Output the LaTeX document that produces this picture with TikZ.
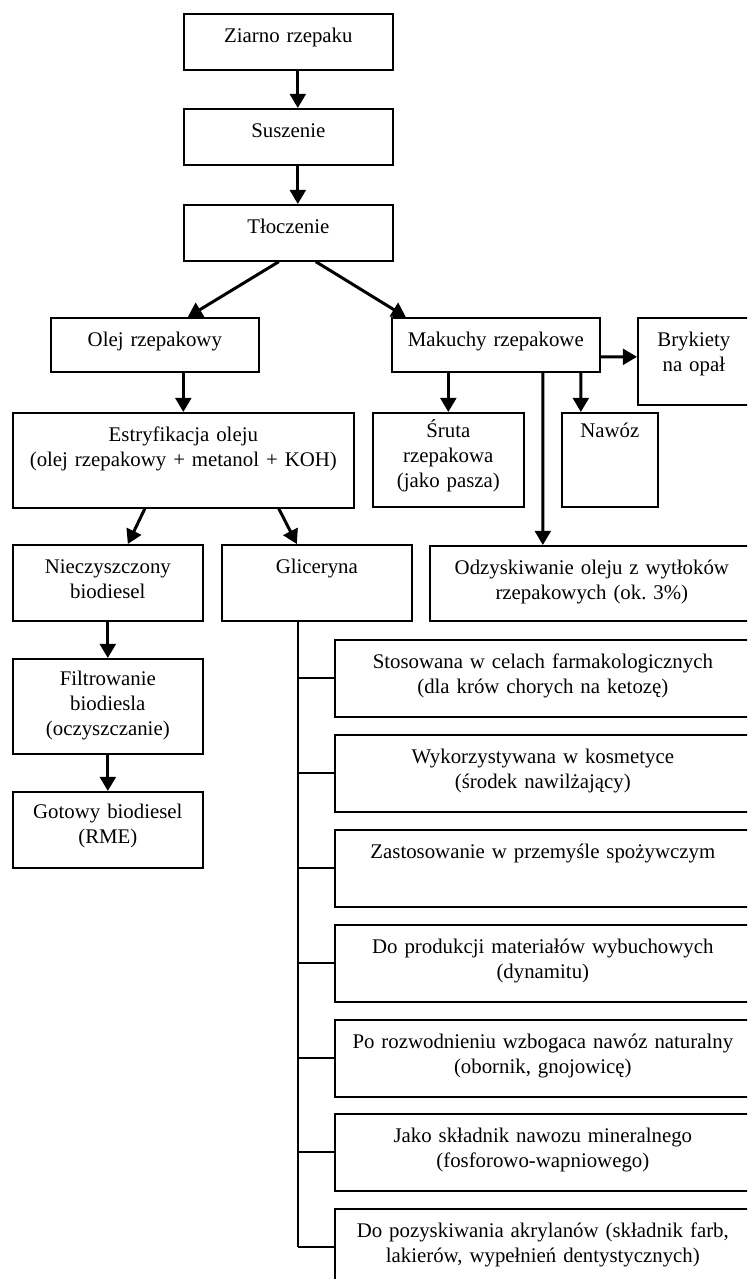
\documentclass[tikz,border=0pt]{standalone}
\usepackage{fontspec}
\setmainfont{Liberation Serif}
\usetikzlibrary{arrows.meta,calc}
\frenchspacing

\begin{document}
\begin{tikzpicture}[x=0.6pt,y=-0.6pt,
    box/.style={draw,line width=1pt,anchor=north west,inner sep=0pt,align=center,
      font=\fontsize{12.5}{15}\selectfont,text height=17.4pt},
    arr/.style={line width=1.8pt,-{Triangle[length=8.5pt,width=9.5pt]}},
    ln/.style={line width=1.1pt}]
    \useasboundingbox (0,0) rectangle (747,1279);
    \clip (0,0) rectangle (747,1279);
    \node[box,text width=125.4pt,text depth=16.2pt] (A0_0) at (183,13) {Ziarno rzepaku};
    \node[box,text width=125.4pt,text depth=16.2pt] (A1_0) at (183,108) {Suszenie};
    \node[box,text width=125.4pt,text depth=16.2pt] (A2_0) at (183,204) {Tłoczenie};
    \node[box,text width=124.8pt,text depth=15pt] (A3_0) at (50,317) {Olej rzepakowy};
    \node[box,text width=124.8pt,text depth=15pt] (A3_1) at (391,317) {Makuchy rzepakowe};
    \node[box,text width=67.2pt,text depth=34.8pt] (A3_2) at (637,317) {Brykiety\\na opał};
    \node[box,text width=204.6pt,text depth=39.6pt] (A4_0) at (12,412) {Estryfikacja oleju\\(olej rzepakowy + metanol + KOH)};
    \node[box,text width=90.6pt,text height=15pt,text depth=41.4pt] (A4_1) at (372,412) {Śruta\\rzepakowa\\(jako pasza)};
    \node[box,text width=57.6pt,text height=15pt,text depth=41.4pt] (A4_2) at (561,412) {Nawóz};
    \node[box,text width=114pt,text depth=28.2pt] (A5_0) at (12,544) {Nieczyszczony\\biodiesel};
    \node[box,text width=114pt,text depth=28.2pt] (A5_1) at (221,544) {Gliceryna};
    \node[box,text width=194.4pt,text depth=27.6pt] (A5_2) at (429,545) {Odzyskiwanie oleju z wytłoków\\rzepakowych (ok. 3\%)};
    \node[box,text width=114pt,text height=16.2pt,text depth=40.8pt] (A6_0) at (12,658) {Filtrowanie\\biodiesla\\(oczyszczanie)};
    \node[box,text width=114pt,text height=16.2pt,text depth=29.4pt] (A7_0) at (12,791) {Gotowy biodiesel\\(RME)};
    \node[box,text width=249.6pt,text depth=28.8pt] (B0_0) at (334,639) {Stosowana w celach farmakologicznych\\(dla krów chorych na ketozę)};
    \node[box,text width=249.6pt,text depth=28.8pt] (B1_0) at (334,734) {Wykorzystywana w kosmetyce\\(środek nawilżający)};
    \node[box,text width=249.6pt,text depth=28.8pt] (B2_0) at (334,829) {Zastosowanie w przemyśle spożywczym};
    \node[box,text width=249.6pt,text depth=28.8pt] (B3_0) at (334,924) {Do produkcji materiałów wybuchowych\\(dynamitu)};
    \node[box,text width=249.6pt,text depth=28.8pt] (B4_0) at (334,1019) {Po rozwodnieniu wzbogaca nawóz naturalny\\(obornik, gnojowicę)};
    \node[box,text width=249.6pt,text depth=28.8pt] (B5_0) at (334,1113) {Jako składnik nawozu mineralnego\\(fosforowo-wapniowego)};
    \node[box,text width=249.6pt,text depth=28.8pt] (B6_0) at (334,1208) {Do pozyskiwania akrylanów (składnik farb,\\lakierów, wypełnień dentystycznych)};
    \path ($(A0_0.south)+(9.5,0)$) edge [arr] ($(A1_0.north)+(9.5,0)$);
    \path ($(A1_0.south)+(9.5,0)$) edge [arr] ($(A2_0.north)+(9.5,0)$);
    \path ($(A2_0.south)+(-9.5,0)$) edge [arr] ($(A3_0.north)+(33,0)$);
    \path ($(A2_0.south)+(27.5,0)$) edge [arr] ($(A3_1.north)+(-90,0)$);
    \path (A3_0.south -| A4_0.north) edge [arr] (A4_0.north);
    \path ($(A3_1.east)+(0,12)$) edge [arr] ($(A3_2.west)+(0,-4.5)$);
    \path (A3_1.south -| A4_1.north) edge [arr] (A4_1.north);
    \path ($(A3_1.south)+(85,0)$) edge [arr] ($(A4_2.north)+(-29,0)$);
    \path ($(A3_1.south)+(47,0)$) edge [arr] ($(A5_2.north)+(-49,0)$);
    \path ($(A4_0.south)+(-38.5,0)$) edge [arr] ($(A5_0.north)+(20,0)$);
    \path ($(A4_0.south)+(95.5,0)$) edge [arr] ($(A5_1.north)+(-20,0)$);
    \path (A5_0.south) edge [arr] (A6_0.north);
    \path (A6_0.south) edge [arr] (A7_0.north);
    % gliceryna
    \coordinate (T0) at ($(A5_1.south)+(-19,0)$);
    \draw[ln] (T0) -- (T0 |- B6_0.west);
    \draw[ln] (T0 |- B0_0.west) -- (B0_0.west);
    \draw[ln] (T0 |- B1_0.west) -- (B1_0.west);
    \draw[ln] (T0 |- B2_0.west) -- (B2_0.west);
    \draw[ln] (T0 |- B3_0.west) -- (B3_0.west);
    \draw[ln] (T0 |- B4_0.west) -- (B4_0.west);
    \draw[ln] (T0 |- B5_0.west) -- (B5_0.west);
    \draw[ln] (T0 |- B6_0.west) -- (B6_0.west);
  \end{tikzpicture}
\end{document}
